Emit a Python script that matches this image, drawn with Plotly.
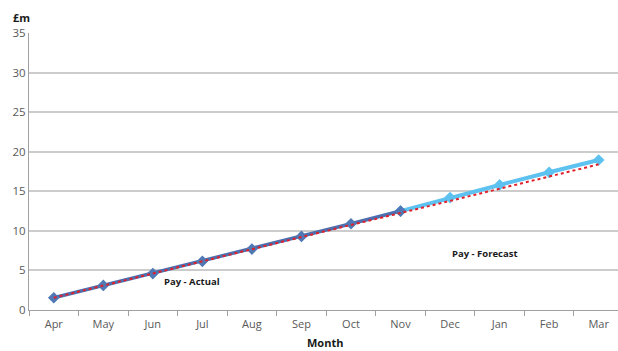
import plotly.graph_objects as go

months = ["Apr", "May", "Jun", "Jul", "Aug", "Sep", "Oct", "Nov", "Dec", "Jan", "Feb", "Mar"]
actual_months = months[:8]
actual = [1.55, 3.1, 4.6, 6.15, 7.7, 9.3, 10.9, 12.5]
forecast_months = months[7:]
forecast = [12.5, 14.2, 15.8, 17.4, 18.95]
budget = [1.55, 3.1, 4.6, 6.1, 7.65, 9.2, 10.75, 12.25, 13.8, 15.35, 16.85, 18.4]

fig = go.Figure()
fig.add_trace(go.Scatter(x=forecast_months, y=forecast, mode="lines+markers",
                         line=dict(color="#5ec2f0", width=4),
                         marker=dict(symbol="diamond", size=9, color="#5ec2f0"),
                         showlegend=False))
fig.add_trace(go.Scatter(x=actual_months, y=actual, mode="lines+markers",
                         line=dict(color="#4d6fae", width=3.5),
                         marker=dict(symbol="diamond", size=9, color="#4f78b4"),
                         showlegend=False))
fig.add_trace(go.Scatter(x=months, y=budget, mode="lines",
                         line=dict(color="#e0202a", width=2, dash="dot"),
                         showlegend=False))

fig.add_annotation(x=2.8, y=3.6, xref="x", yref="y", text="<b>Pay - Actual</b>",
                   showarrow=False, xanchor="center",
                   font=dict(family="Open Sans", size=9.5, color="#1a1a1a"))
fig.add_annotation(x=8.7, y=7.1, xref="x", yref="y", text="<b>Pay - Forecast</b>",
                   showarrow=False, xanchor="center",
                   font=dict(family="Open Sans", size=9.5, color="#1a1a1a"))
fig.add_annotation(x=11, y=17, xref="paper", yref="paper", text="<b>£m</b>",
                   xanchor="left", yanchor="middle", showarrow=False,
                   font=dict(family="Open Sans", size=11, color="#1a1a1a"))
fig.add_annotation(x=325, y=342, xref="paper", yref="paper", text="<b>Month</b>",
                   showarrow=False, font=dict(family="Open Sans", size=11, color="#1a1a1a"))

fig.update_layout(
    width=618, height=351,
    margin=dict(l=29, r=0, t=33, b=41),
    paper_bgcolor="white", plot_bgcolor="white",
    font=dict(family="Open Sans", size=11, color="#595959"),
    xaxis=dict(type="category", categoryorder="array", categoryarray=months,
               range=[-0.5, 11.39], tickson="boundaries", ticks="outside",
               ticklen=5, tickcolor="#a0a0a0", showline=True, linecolor="#a0a0a0",
               linewidth=1, showgrid=False, ticklabelstandoff=4,
               tickfont=dict(size=11, color="#595959")),
    yaxis=dict(range=[0, 35], dtick=5, showgrid=True, gridcolor="#cccccc",
               gridwidth=1.5, showline=True, linecolor="#a0a0a0", linewidth=1,
               zeroline=False, ticks="", tickfont=dict(size=11.5, color="#595959")),
)
# position paper-pixel annotations
for a in fig.layout.annotations:
    if a.xref == "paper":
        a.x = (a.x - 29) / (618 - 29)
        a.y = 1 - (a.y - 33) / (351 - 33 - 41)
        a.yanchor = "middle"

fig.write_html("out.html")
